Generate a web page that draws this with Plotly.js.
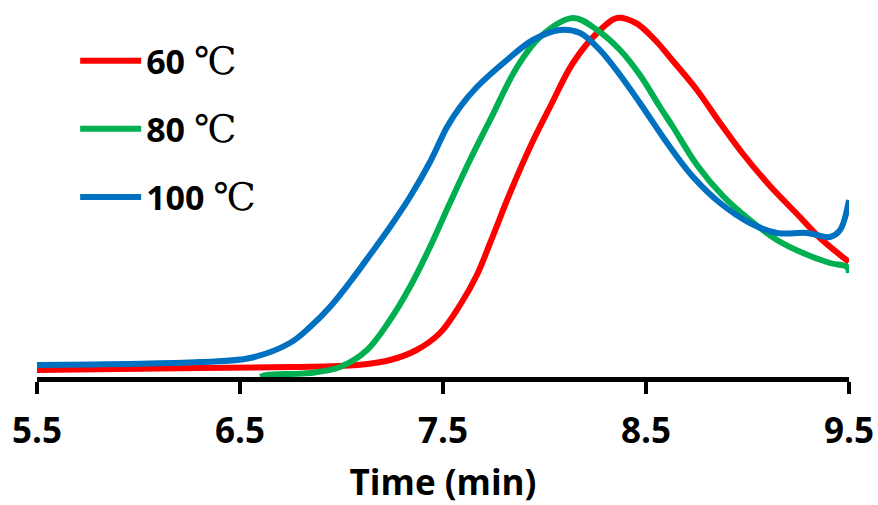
<!DOCTYPE html>
<html>
<head>
<meta charset="utf-8">
<script src="https://cdn.plot.ly/plotly-3.0.1.min.js"></script>
<style>html,body{margin:0;padding:0;background:#fff;}#chart{width:878px;height:505px;}</style>
</head>
<body>
<div id="chart"></div>
<script>
// Data (signal in arbitrary units above baseline)
const red_x = [5.5, 6.3, 6.75, 7.08, 7.24, 7.37, 7.485, 7.584, 7.667, 7.732, 7.83, 7.929, 8.027, 8.14, 8.259, 8.357, 8.45, 8.54, 8.633, 8.751, 8.865, 8.978, 9.111, 9.244, 9.357, 9.5];
const red_y = [7, 9, 10, 12, 17, 27, 44, 72, 102, 134, 184, 230, 270, 314, 344, 359, 354, 338, 316, 287, 254, 223, 191, 163, 139, 115];

const green_x = [6.6, 6.633, 6.845, 6.993, 7.126, 7.239, 7.337, 7.436, 7.534, 7.633, 7.732, 7.865, 7.978, 8.14, 8.259, 8.372, 8.47, 8.569, 8.633, 8.751, 8.879, 9.012, 9.145, 9.273, 9.406, 9.49, 9.5];
const green_y = [0, 2, 4, 10, 27, 57, 90, 130, 174, 217, 257, 310, 340, 359, 347, 327, 302, 270, 250, 212, 181, 157, 137, 124, 114, 110, 104];

const blue_x = [5.5, 6.303, 6.549, 6.746, 6.845, 6.943, 7.042, 7.14, 7.239, 7.337, 7.436, 7.52, 7.584, 7.667, 7.815, 7.943, 8.076, 8.175, 8.273, 8.372, 8.47, 8.618, 8.732, 8.865, 9.012, 9.145, 9.293, 9.406, 9.456, 9.5];
const blue_y = [12, 15, 19, 34, 50, 70, 95, 122, 150, 180, 215, 250, 270, 290, 317, 337, 347, 344, 327, 302, 274, 230, 200, 174, 154, 144, 144, 140, 147, 177];

const degree = '<span style="font-family:\'DejaVu Serif\';font-weight:normal;font-size:38px">℃</span>';
const series_names = ['60 ' + degree, '80 ' + degree, '100 ' + degree];
const tick_vals = [5.5, 6.5, 7.5, 8.5, 9.5];
const tick_text = ['5.5', '6.5', '7.5', '8.5', '9.5'];

const colors = ['#FF0000', '#00B050', '#0070C0'];
const xs = [red_x, green_x, blue_x];
const ys = [red_y, green_y, blue_y];

const traces = xs.map((x, i) => ({
  x: x, y: ys[i], type: 'scatter', mode: 'lines',
  name: series_names[i], legendgroup: 'g' + i,
  line: {color: colors[i], width: 6, shape: 'spline', smoothing: 1}
}));

const boldFont = {family: 'Open Sans', size: 35, color: '#000', weight: 'bold'};

const layout = {
  width: 878, height: 505,
  margin: {l: 37, r: 29, t: 0, b: 128},
  paper_bgcolor: '#fff', plot_bgcolor: '#fff',
  showlegend: true,
  legend: {
    x: 0.047, y: 0.915, xanchor: 'left', yanchor: 'top',
    font: {family: 'Open Sans', size: 34, color: '#000', weight: 'bold'},
    bgcolor: 'rgba(0,0,0,0)', traceorder: 'grouped', tracegroupgap: 21,
    itemwidth: 61
  },
  xaxis: {
    range: [5.5, 9.5], showgrid: false, zeroline: false,
    showline: true, linecolor: '#000', linewidth: 5,
    ticks: 'outside', ticklen: 12, tickwidth: 4, tickcolor: '#000',
    tickvals: tick_vals, ticktext: tick_text,
    tickfont: boldFont, ticklabelstandoff: 7,
    title: {text: 'Time (min)', font: boldFont, standoff: 21}
  },
  yaxis: {range: [0, 377], visible: false, fixedrange: true}
};

Plotly.newPlot('chart', traces, layout, {displayModeBar: false, staticPlot: true});
</script>
</body>
</html>
